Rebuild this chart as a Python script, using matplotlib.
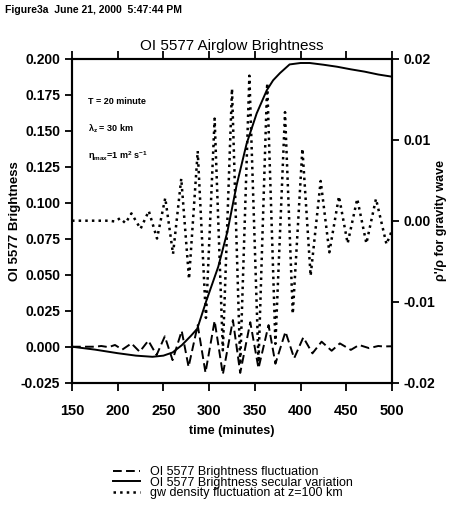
import matplotlib
matplotlib.use("Agg")
import matplotlib.pyplot as plt

plt.rcParams['font.family'] = ['Liberation Sans', 'DejaVu Sans']
plt.rcParams['mathtext.default'] = 'regular'

# OI 5577 brightness fluctuation (left axis)
fluc_t = [150, 175, 182, 190, 197, 205, 215, 224, 233.5, 242.5, 251.5, 260, 270,
          277.5, 287.5, 296, 306, 315, 326, 334, 345, 354, 365, 372.5, 383.5, 393,
          403, 413, 423, 434, 443, 455, 464, 475, 485, 490, 500]
fluc_val = [0.0, 0.0, 0.0005, -0.0003, 0.0012, -0.0020, 0.0023, -0.0035, 0.0042,
            -0.0058, 0.0072, -0.0093, 0.0110, -0.0140, 0.0150, -0.0180, 0.0180,
            -0.0192, 0.0185, -0.0182, 0.0170, -0.0150, 0.0150, -0.0118, 0.0104,
            -0.0080, 0.0065, -0.0046, 0.0035, -0.0028, 0.0023, -0.0022, 0.0012,
            -0.0010, 0.0005, 0.0002, 0.0003]

# OI 5577 brightness secular variation (left axis)
sec_t = [150, 175, 200, 220, 238, 250, 260, 270, 280, 287, 297, 310, 320, 330,
         341, 352, 363, 370, 377.5, 388, 400, 410, 425, 440, 455, 470, 485, 500]
sec_val = [0.0, -0.002, -0.0045, -0.0062, -0.0070, -0.0062, -0.0040, 0.0010,
           0.0075, 0.0125, 0.0320, 0.0556, 0.0800, 0.1120, 0.1410, 0.1620,
           0.1780, 0.1850, 0.1900, 0.1960, 0.1970, 0.1970, 0.1958, 0.1944,
           0.1926, 0.1910, 0.1890, 0.1875]

# gravity wave density fluctuation at z=100 km (right axis)
gw_t = [150, 190, 197, 202.5, 208.5, 215, 225, 234, 243, 252, 260.5, 269.5, 278,
        287.5, 296.5, 306, 315, 325, 334, 344, 354, 363.5, 372.5, 383, 391.5,
        402, 411, 422, 431.5, 442, 451.5, 462, 472, 482.5, 494, 500]
gw_val = [0.0, 0.0, -0.0001, 0.0003, -0.0003, 0.0009, -0.0010, 0.0012, -0.0022,
          0.0028, -0.0041, 0.0052, -0.0072, 0.0086, -0.0120, 0.0126, -0.0160,
          0.0163, -0.0178, 0.0179, -0.0175, 0.0170, -0.0152, 0.0134, -0.0115,
          0.0089, -0.0068, 0.0049, -0.0039, 0.0030, -0.0028, 0.0027, -0.0028,
          0.0027, -0.0029, -0.0012]

left_ticks = [-0.025, 0.0, 0.025, 0.05, 0.075, 0.1, 0.125, 0.15, 0.175, 0.2]
right_ticks = [-0.02, -0.01, 0.0, 0.01, 0.02]
x_ticks = [150, 200, 250, 300, 350, 400, 450, 500]

fig = plt.figure(figsize=(4.54, 5.12), dpi=100)
ax = fig.add_axes([0.1586, 0.2525, 0.7048, 0.6329])
ax2 = ax.twinx()

l1, = ax.plot(fluc_t, fluc_val, color='black', lw=1.4, dashes=(4.5, 2.2))
l2, = ax.plot(sec_t, sec_val, color='black', lw=1.4)
l3, = ax2.plot(gw_t, gw_val, color='black', lw=1.8, linestyle=':')

ax.set_xlim(150, 500)
ax.set_ylim(-0.025, 0.2)
ax2.set_ylim(-0.02, 0.02)
ax.set_xticks(x_ticks)
ax.set_yticks(left_ticks)
ax2.set_yticks(right_ticks)
ax.set_yticklabels(['%.3f' % v for v in left_ticks])
ax2.set_yticklabels(['%.2f' % v for v in right_ticks])

for a in (ax, ax2):
    for s in a.spines.values():
        s.set_linewidth(1.5)
    a.tick_params(width=1.3, length=5, labelsize=10, direction='out')
ax.tick_params(axis='x', top=True, length=6, pad=9, labelsize=10.5)
for lab in ax.get_xticklabels() + ax.get_yticklabels() + ax2.get_yticklabels():
    lab.set_fontweight('bold')

ax.set_title('OI 5577 Airglow Brightness', fontsize=11, pad=6)
ax.set_xlabel('time (minutes)', fontsize=9, fontweight='bold')
ax.xaxis.set_label_coords(0.5, -0.132)
ax.set_ylabel('OI 5577 Brightness', fontsize=9.5, fontweight='bold')
ax.yaxis.set_label_coords(-0.16, 0.5)
ax2.set_ylabel("ρ'/ρ for gravity wave", fontsize=9, fontweight='bold')
ax2.yaxis.set_label_coords(1.135, 0.5)

ax.text(0.05, 0.86, 'T = 20 minute', transform=ax.transAxes, fontsize=6.5,
        fontweight='bold')
ax.text(0.05, 0.775, r'$\lambda_z$ = 30 km', transform=ax.transAxes, fontsize=6.5,
        fontweight='bold')
ax.text(0.05, 0.69, r'$\eta_{max}$=1 m$^2$ s$^{-1}$', transform=ax.transAxes,
        fontsize=6.5, fontweight='bold')

fig.text(0.01, 0.975, 'Figure3a  June 21, 2000  5:47:44 PM', fontsize=7.5,
         fontweight='bold')

fig.legend([l1, l2, l3],
           ['OI 5577 Brightness fluctuation',
            'OI 5577 Brightness secular variation',
            'gw density fluctuation at z=100 km'],
           loc='upper left', bbox_to_anchor=(0.235, 0.1016), frameon=False,
           fontsize=9, handlelength=2.2, handletextpad=0.8, labelspacing=-0.12,
           borderpad=0)

fig.savefig('out.png', dpi=100)
